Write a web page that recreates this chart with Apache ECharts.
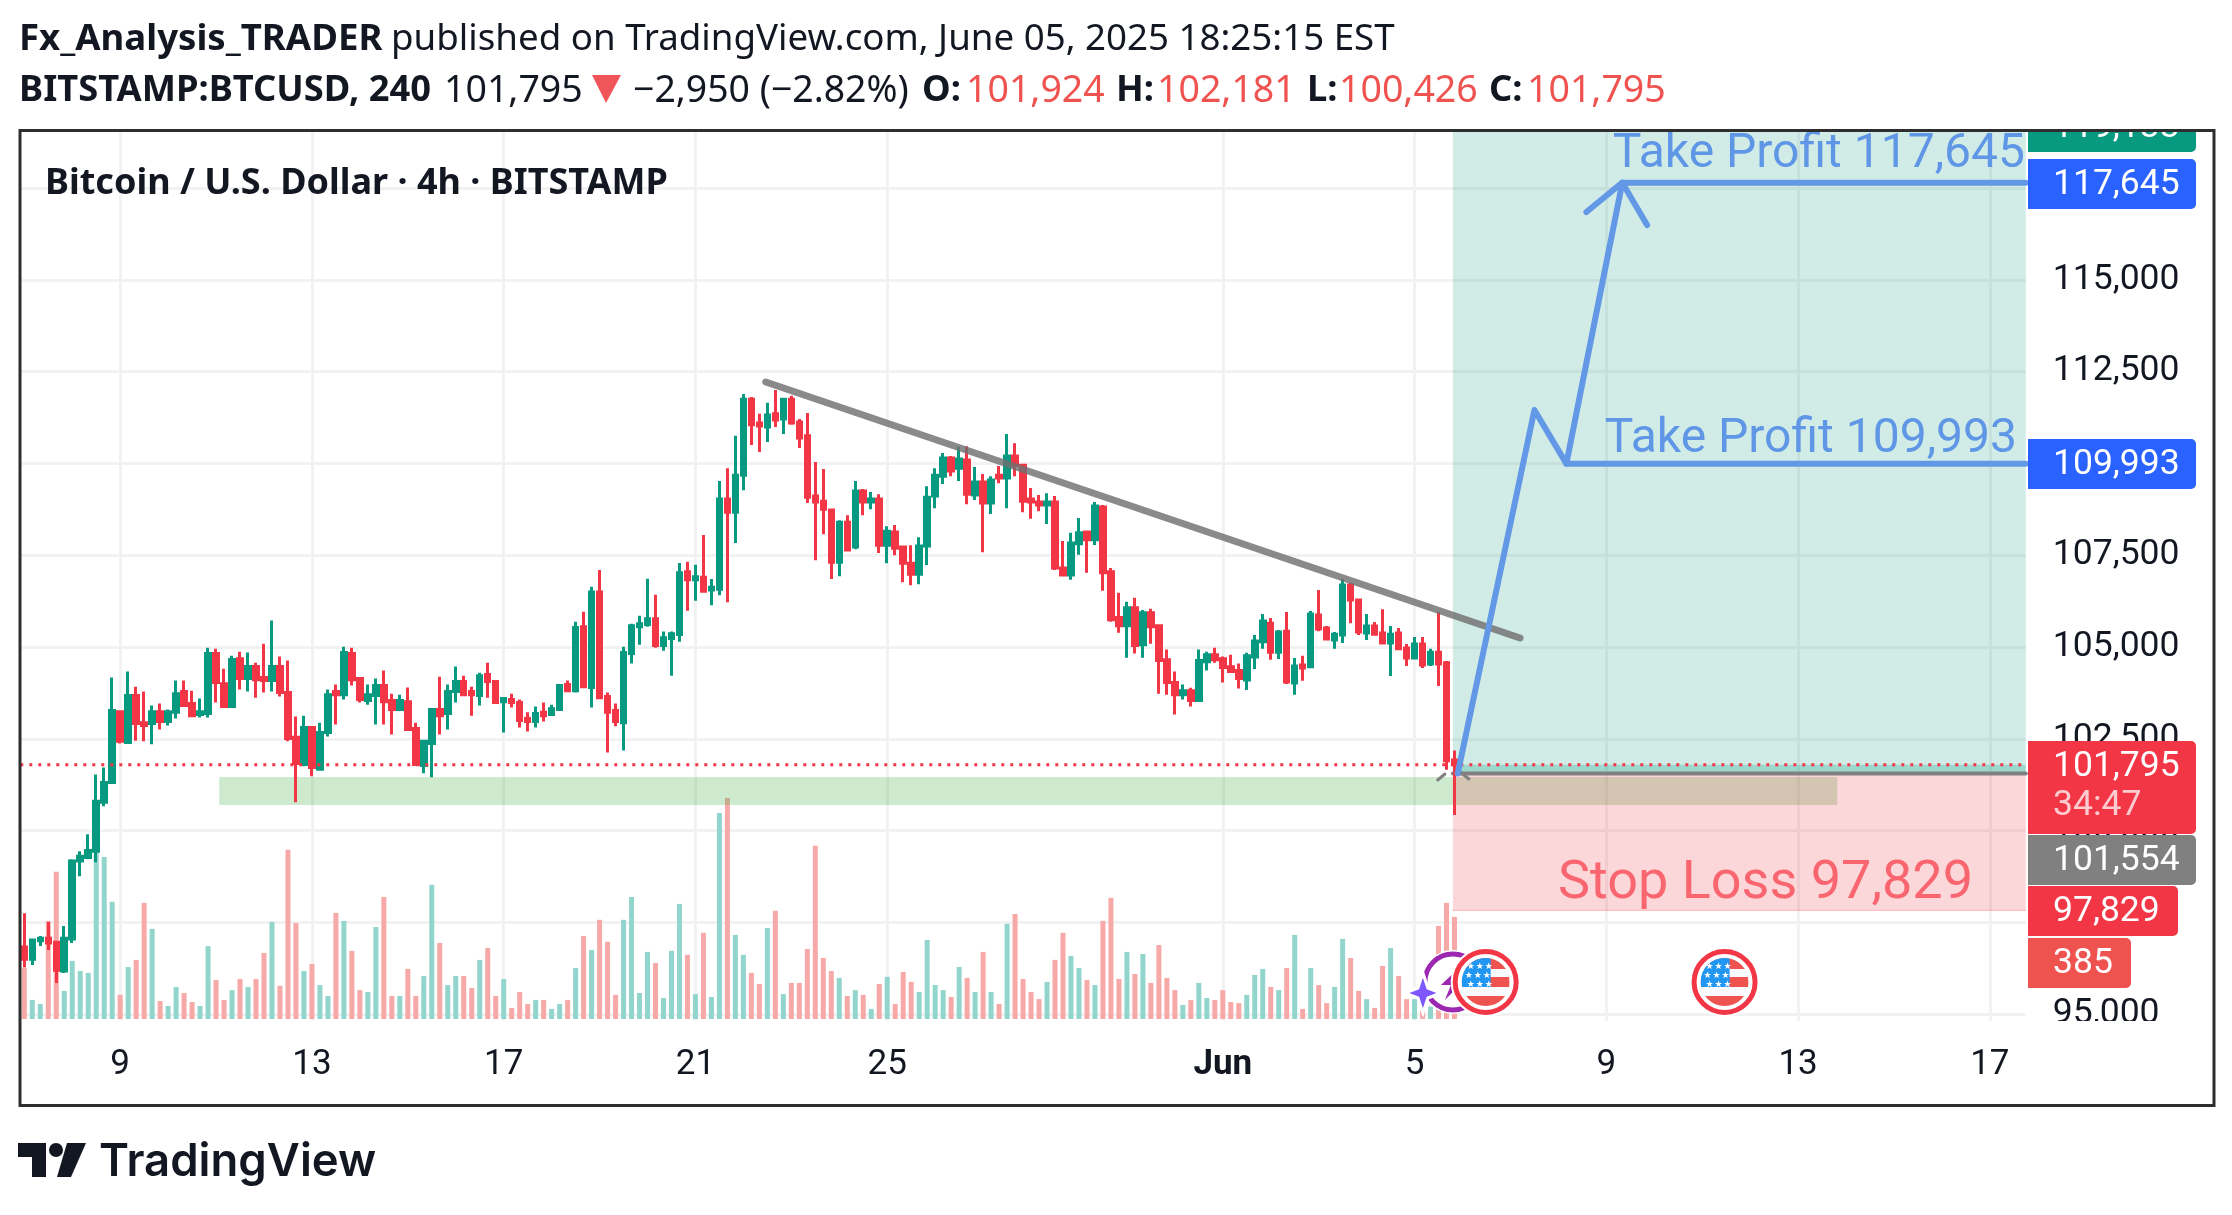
<!DOCTYPE html>
<html>
<head>
<meta charset="utf-8">
<title>BTCUSD</title>
<script src="https://cdn.jsdelivr.net/npm/echarts@6/dist/echarts.min.js"></script>
<style>
html,body{margin:0;padding:0;background:#fff;}
#container{width:2232px;height:1215px;}
</style>
</head>
<body>
<div id="container"></div>
<script>
// open, close, low, high - 4h bars
var candles = [
[96830,96500,96270,97750],[96500,97020,96340,97020],[97000,97070,96860,97130],[97070,96940,96750,97510],[96960,96200,95850,96990],
[96180,97070,96120,97400],[97050,99170,96940,99220],[99170,99300,98760,99440],[99270,99460,99270,99900],[99440,100800,99140,101530],
[100770,101310,100660,101720],[101310,103270,101310,104170],[103240,102430,102370,103240],[102400,103680,102370,104330],[103680,102920,102450,103920],
[102940,102860,102430,103790],[102920,103240,102350,103410],[103240,102970,102750,103460],[102970,103240,102860,103300],[103220,103730,103050,104090],
[103790,103410,103410,104090],[103460,103130,103130,103810],[103160,103240,103080,103600],[103190,104820,103080,104980],[104820,104030,103490,104950],
[104000,103380,103380,104410],[103380,104660,103380,104760],[104680,104140,103840,104870],[104140,104470,103790,104850],[104470,104110,103620,104570],
[104170,104090,103760,105090],[104090,104470,103790,105720],[104470,103760,103650,104740],[103760,102510,102430,104630],[102540,101830,100770,103110],
[101800,102810,101750,103130],[102810,101720,101480,102810],[101670,102670,101670,102940],[102670,103700,102560,103840],[103790,103700,102890,103980],
[103700,104850,103570,105010],[104820,104110,103950,104980],[104140,103570,103490,104140],[103540,103700,103430,103980],[103680,103950,102890,104140],
[103950,103510,102890,104360],[103540,103300,102620,103730],[103300,103540,103300,103700],[103510,102750,102750,103900],[102780,101800,101770,102940],
[101770,102430,101560,102450],[102370,103300,101450,103300],[103300,103130,102620,104190],[103190,103790,102750,103980],[103790,104060,103490,104470],
[104060,103700,103700,104220],[103790,103700,103130,103920],[103680,104220,103410,104300],[104250,104060,103620,104570],[104060,103490,103460,104060],
[103510,103600,102670,103600],[103570,103490,103350,103730],[103490,103000,102810,103570],[103050,102970,102700,103220],[102970,103190,102810,103380],
[103220,103130,102970,103490],[103160,103320,103160,103430],[103300,103950,103300,103980],[103980,103810,103810,104090],[103810,105530,103760,105690],
[105550,103920,103920,105960],[103900,106500,103350,106640],[106500,103620,103600,107100],[103650,103220,102130,103760],[103270,102970,102840,103460],
[102940,104850,102180,105010],[104820,105580,104550,105630],[105550,105630,105060,105850],[105610,105770,105550,106860],[105770,105040,104980,106420],
[105040,105250,104900,105420],[105230,105360,104220,105420],[105340,107020,105140,107290],[107050,106830,105990,107320],[106830,106910,106260,107240],
[106900,106520,106520,108050],[106550,106630,106140,106850],[106570,109030,106410,109520],[109030,108670,106220,109870],[108670,109680,107830,110750],
[109680,111750,109270,111890],[111750,111050,110500,111810],[111100,111020,110310,111350],[110990,111320,110580,111650],[111350,111180,110990,112000],
[111210,111750,110800,111750],[111750,111100,111050,111840],[111130,110690,110420,111210],[110750,109080,108920,111370],[109110,108950,107360,110040],
[108970,108750,108070,109850],[108730,107310,106850,108730],[107310,108400,106930,108450],[108400,107640,107610,108590],[107720,109250,107660,109520],
[109250,108950,108590,109300],[108950,109030,108750,109220],[109030,107770,107560,109160],[107770,108150,107280,108290],[108130,107690,107500,108320],
[107720,107280,106760,107720],[107280,106980,106680,107770],[106980,107750,106710,107990],[107750,109080,107230,109380],[109110,109680,108780,109870],
[109650,110150,109440,110280],[110150,109790,109650,110200],[109870,110120,109520,110450],[110090,109160,108890,110470],[109140,109490,109000,109900],
[109490,108920,107580,109710],[108920,109550,108620,109650],[109680,109600,109460,109930],[109600,110200,108780,110800],[110200,109950,109650,110550],
[109950,108970,108670,109950],[109030,108950,108490,109330],[108950,108870,108700,109140],[108870,108950,108350,109190],[108950,107150,107100,109110],
[107150,106960,106940,107890],[106960,107830,106830,108110],[107810,108110,107510,108510],[108130,107920,107020,108160],[107920,108840,107780,108950],
[108810,107020,106530,108870],[107050,105740,105690,107150],[105800,105580,105390,106480],[105580,106070,104710,106230],[106070,105040,104820,106340],
[105060,105930,104710,106010],[105930,105550,105090,106040],[105580,104630,103730,105580],[104650,104030,103700,104930],[104030,103700,103160,104330],
[103700,103810,103570,103980],[103810,103540,103380,103890],[103540,104630,103540,104930],[104600,104790,104360,104870],[104790,104650,104570,104980],
[104680,104440,104030,104740],[104460,104330,104300,104790],[104360,104140,103870,104550],[104100,104760,103830,104840],[104730,105160,104400,105330],
[105140,105710,104950,105900],[105650,104860,104650,105790],[104860,105410,104670,105460],[105430,104050,103990,105950],[104020,104480,103700,104700],
[104510,104430,104080,104760],[104460,105900,104460,105980],[105870,105490,105430,106550],[105520,105220,105190,105570],[105190,105350,104950,105410],
[105330,106690,105110,106850],[106690,106280,105650,106740],[106280,105410,105330,106300],[105380,105570,105190,105900],[105570,105350,105330,105680],
[105380,105110,105110,106030],[105110,105350,104210,105570],[105380,104950,104920,105520],[104970,104700,104480,105080],[104700,105080,104700,105270],
[105080,104510,104430,105270],[104540,104860,104480,104950],[104860,104540,103940,105950],[104570,101900,101660,104620],[101924,101795,100426,102181]
];
var volumes = [
192,72,57,370,555,106,219,181,174,630,611,442,91,196,223,438,340,68,49,121,
98,64,49,275,147,72,109,151,121,151,249,366,125,638,362,181,208,128,87,400,
370,257,109,102,347,460,87,87,189,87,162,506,287,128,162,162,117,223,268,87,
151,42,102,57,72,72,38,57,72,192,313,260,374,291,91,374,460,98,253,211,
79,257,434,242,94,325,83,777,833,317,242,174,132,343,408,94,136,136,264,653,
230,181,155,87,109,91,38,132,159,57,177,140,102,298,128,109,83,196,155,102,
253,102,57,359,396,151,102,75,140,223,325,238,192,147,128,370,457,151,253,170,
245,136,279,155,109,53,72,136,79,72,109,64,60,91,166,189,121,109,192,317,
38,192,128,60,121,302,230,106,75,42,200,268,162,75,75,34,47,351,438,385
];
var barCount = 251;
var priceTicks = [95000,97500,100000,102500,105000,107500,110000,112500,115000,117500];
var timeBars = [12,36,60,84,108,150,174,198,222,246];
var timeLabels = ['9','13','17','21','25','Jun','5','9','13','17'];

var lastPrice = 101795;
var entryPrice = 101554;
var targetPrice = 119133;
var stopPrice = 97829;
var tp1 = 109993;
var tp2 = 117645;
var positionStart = 178.8;
var zone = [24.4, 100700, 226.9, 101460];
var trendLine = [[92.8,112217],[187.2,105245]];
var pathLine = [[179.4,101554],[189,111454],[193,109993],[200,117645]];
var arrowWings = [[195.5,116846],[200,117645],[203.1,116490]];
var tp1Line = [[193,109993],[250.5,109993]];
var tp2Line = [[200,117645],[250.5,117645]];
var entryTickA = [[176.9,101378],[177.8,101541]];
var entryTickB = [[179.4,101650],[180.8,101405]];
var noteTexts = ['Take Profit 117,645','Take Profit 109,993','Stop Loss 97,829'];
var noteBars = [250.4,249.4,243.9];
var notePrices = [118400,110640,98520];
var flagBars = [182.9,212.8];
var eventPrice = 95877;

var UP = '#089981', DOWN = '#f23645', INK = '#131722';
var BLUE = '#6398e6', GREY = '#808080';

var categories = [];
for (var i = 0; i < barCount; i++) categories.push(String(i));

function fmt(v){ return String(v).replace(/\B(?=(\d{3})+$)/g, ','); }

var volumeData = volumes.map(function(v, i){
    var up = candles[i][1] >= candles[i][0];
    return { value: v, itemStyle: { color: up ? '#92d5cc' : '#f7a9a7' } };
});

function lineSeries(points, color, width, z){
    return {
        type: 'line', xAxisIndex: 1, yAxisIndex: 0, data: points, z: z,
        symbol: 'none', silent: true, animation: false, clip: true,
        lineStyle: { color: color, width: width, cap: 'round', join: 'round' }
    };
}

// zone goes first, the position boxes lie over it
var boxStyles = ['rgba(76,175,80,0.28)','rgba(8,153,129,0.19)','rgba(8,153,129,0.25)','rgba(242,54,69,0.2)'];
var boxes = [
    zone,
    [positionStart, entryPrice, barCount-0.5, targetPrice],
    [positionStart, entryPrice, barCount-0.5, lastPrice],
    [positionStart, stopPrice, barCount-0.5, entryPrice]
];

function renderBox(params, api){
    var a = api.coord([api.value(0), api.value(1)]);
    var b = api.coord([api.value(2), api.value(3)]);
    return {
        type: 'rect',
        shape: { x: Math.min(a[0],b[0]), y: Math.min(a[1],b[1]), width: Math.abs(b[0]-a[0]), height: Math.abs(b[1]-a[1]) },
        style: { fill: boxStyles[params.dataIndex] }
    };
}

function renderNote(params, api){
    var p = api.coord([api.value(0), api.value(1)]);
    var i = params.dataIndex;
    return {
        type: 'text', x: p[0], y: p[1],
        style: {
            text: noteTexts[i], align: 'right', verticalAlign: 'middle',
            font: '400 ' + (i < 2 ? 48 : 54) + 'px Roboto', fill: i < 2 ? '#5f96e6' : '#f9666f'
        }
    };
}

function renderFlag(params, api){
    var p = api.coord([api.value(0), eventPrice]);
    var stars = [];
    [-15,-6,3].forEach(function(sx, c){
        [-15,-6,3].forEach(function(sy, r){
            stars.push({ type:'text', x: sx + (r == 1 ? -2 : 0), y: sy, style:{ text:'★', font:'9px "DejaVu Sans"', fill:'#fff', align:'center', verticalAlign:'middle' } });
        });
    });
    return {
        type: 'group', x: p[0], y: p[1],
        children: [
            { type:'circle', shape:{cx:0,cy:0,r:35}, style:{fill:'#fff'} },
            { type:'circle', shape:{cx:0,cy:0,r:30.5}, style:{fill:'#fff',stroke:'#f23645',lineWidth:5} },
            { type:'group', clipPath:{ type:'circle', shape:{cx:0,cy:0,r:24} }, children: [
                { type:'rect', shape:{x:-24,y:-24,width:48,height:48}, style:{fill:'#f8f9fd'} },
                { type:'rect', shape:{x:-24,y:-24,width:48,height:11}, style:{fill:'#ef5350'} },
                { type:'rect', shape:{x:-24,y:-5,width:48,height:10}, style:{fill:'#ef5350'} },
                { type:'rect', shape:{x:-24,y:14,width:48,height:10}, style:{fill:'#ef5350'} },
                { type:'rect', shape:{x:-24,y:-24,width:29,height:29}, style:{fill:'#2196f3'} }
            ].concat(stars) }
        ]
    };
}

function renderSplit(params, api){
    var p = api.coord([positionStart, eventPrice]);
    return {
        type: 'group', x: p[0], y: p[1],
        children: [
            { type:'circle', shape:{cx:0,cy:0,r:32}, style:{fill:'#fff'} },
            { type:'circle', shape:{cx:0,cy:0,r:28}, style:{fill:'#fff',stroke:'#9c27b0',lineWidth:5} },
            { type:'polygon', shape:{points:[[6,-14],[-12,3],[-2,3],[-8,18],[12,-2],[2,-2]]}, style:{fill:'#9c27b0'} },
            { type:'polygon', x:-30, y:11, shape:{points:[[0,-20],[5,-5],[18,0],[5,5],[0,20],[-5,5],[-18,0],[-5,-5]]}, style:{fill:'#7e57ff',stroke:'#fff',lineWidth:3} }
        ]
    };
}

function txt(x, y, str, size, weight, color, family, z){
    return {
        type: 'text', x: x, y: y, z: z || 61, silent: true,
        style: { text: str, font: weight + ' ' + size + 'px ' + (family || '"Noto Sans"'), fill: color || INK, verticalAlign: 'middle' }
    };
}

function tag(top, right, color, label, z){
    var group = [{
        type: 'rect', z: z, silent: true,
        shape: { x: 2028, y: top, width: right - 2028, height: 50, r: [0,5,5,0] },
        style: { fill: color }
    }];
    if (label) group.push(txt(2053, top + 26, label, 35.5, 400, '#fff', 'Roboto', z + 1));
    return group;
}

var header = [
    { type:'rect', z:60, silent:true, shape:{x:0,y:0,width:2232,height:129}, style:{fill:'#fff'} },
    { type:'rect', z:60, silent:true, shape:{x:0,y:1108,width:2232,height:107}, style:{fill:'#fff'} },
    { type:'rect', z:10, silent:true, shape:{x:2030,y:1021,width:182,height:84}, style:{fill:'#fff'} },
    txt(19, 40, 'Fx_Analysis_TRADER', 36.6, 700),
    txt(391, 40, 'published on TradingView.com, June 05, 2025 18:25:15 EST', 36.7, 400),
    txt(19, 91, 'BITSTAMP:BTCUSD, 240', 36.3, 700),
    txt(444, 91, '101,795', 37.5, 400),
    { type:'polygon', z:61, silent:true, shape:{points:[[592,75],[621,75],[606,103]]}, style:{fill:'#f0555a'} },
    txt(633, 91, '\u22122,950 (\u22122.82%)', 37.4, 400),
    txt(922, 91, 'O:', 36.3, 700),
    txt(966, 91, '101,924', 37.5, 400, '#ef5350'),
    txt(1116, 91, 'H:', 36.3, 700),
    txt(1157, 91, '102,181', 37.5, 400, '#ef5350'),
    txt(1307, 91, 'L:', 36.3, 700),
    txt(1339, 91, '100,426', 37.5, 400, '#ef5350'),
    txt(1489, 91, 'C:', 36.3, 700),
    txt(1527, 91, '101,795', 37.5, 400, '#ef5350'),
    txt(45, 184, 'Bitcoin / U.S. Dollar \u00b7 4h \u00b7 BITSTAMP', 36, 700),
    // price scale tags
    tag(102, 2196, UP, fmt(targetPrice), 50),
    tag(159, 2196, '#2962ff', fmt(tp2), 52),
    tag(439, 2196, '#2962ff', fmt(tp1), 52),
    tag(741, 2196, DOWN, fmt(lastPrice), 50),
    [{ type:'rect', z:50, silent:true, shape:{x:2028,y:780,width:168,height:54,r:[0,5,5,0]}, style:{fill:DOWN} },
     txt(2053, 806, '34:47', 35.5, 400, 'rgba(255,255,255,0.75)', 'Roboto', 51)],
    tag(835, 2196, GREY, fmt(entryPrice), 50),
    tag(886, 2178, DOWN, fmt(stopPrice), 50),
    tag(938, 2131, '#ef5350', String(volumes[volumes.length-1]), 50),
    // frame
    { type:'rect', z:70, silent:true, shape:{x:20,y:130.5,width:2194,height:975}, style:{fill:'none',stroke:'#2e2e2e',lineWidth:3} },
    // logo
    { type:'polygon', z:61, silent:true, shape:{points:[[18,1143],[46,1143],[46,1177],[32,1177],[32,1157],[18,1157]]}, style:{fill:INK} },
    { type:'circle', z:61, silent:true, shape:{cx:56,cy:1150,r:7}, style:{fill:INK} },
    { type:'polygon', z:61, silent:true, shape:{points:[[67,1143],[86,1143],[71,1177],[57,1177]]}, style:{fill:INK} },
    txt(99, 1162, 'TradingView', 45.5, 600, INK, 'Inter')
];
var graphicElements = [];
header.forEach(function(el){ graphicElements = graphicElements.concat(el); });

var myChart = echarts.init(document.getElementById('container'));

var option = {
    animation: false,
    backgroundColor: '#fff',
    grid: { left: 20.3, right: 2232 - 2025.8, top: 131, bottom: 1215 - 1021, containLabel: false },
    xAxis: [
        { type: 'category', data: categories, show: false, boundaryGap: true },
        {
            type: 'value', min: -0.5, max: barCount - 0.5, position: 'bottom',
            axisLine: { show: false },
            axisTick: { show: false, customValues: timeBars },
            splitLine: { show: true, lineStyle: { color: '#f2f2f2', width: 3 } },
            axisLabel: {
                customValues: timeBars, margin: 27, fontFamily: 'Roboto', fontSize: 35, color: INK,
                formatter: function(v){
                    var s = timeLabels[timeBars.indexOf(v)];
                    return s == 'Jun' ? '{b|Jun}' : s;
                },
                rich: { b: { fontFamily: 'Roboto', fontSize: 35, fontWeight: 700, color: INK } }
            }
        }
    ],
    yAxis: [
        {
            type: 'value', position: 'right', min: 94815, max: 119052, scale: true,
            axisLine: { show: false },
            axisTick: { show: false, customValues: priceTicks },
            splitLine: { show: true, lineStyle: { color: '#f2f2f2', width: 3 } },
            axisLabel: {
                customValues: priceTicks, margin: 27, align: 'left', fontFamily: 'Roboto', fontSize: 35.5, color: INK,
                padding: [3,0,0,0],
                formatter: function(v){ return fmt(v); }
            }
        },
        { type: 'value', min: -7.5, max: 3348, show: false, splitLine: { show: false } }
    ],
    graphic: { elements: graphicElements },
    series: [
        { type: 'bar', name: 'Volume', xAxisIndex: 0, yAxisIndex: 1, data: volumeData, barWidth: 5, z: 1, silent: true },
        {
            type: 'custom', xAxisIndex: 1, yAxisIndex: 0, data: boxes, renderItem: renderBox,
            encode: { x: [0,2], y: [1,3] }, clip: true, z: 2, silent: true
        },
        lineSeries([[positionStart,entryPrice],[barCount-0.5,entryPrice]], GREY, 4, 3),
        lineSeries([[positionStart,stopPrice],[barCount-0.5,stopPrice]], 'rgba(242,54,69,0.35)', 1, 3),
        {
            type: 'candlestick', name: 'BTCUSD', xAxisIndex: 0, yAxisIndex: 0, data: candles, barWidth: 5, z: 4, silent: true,
            itemStyle: { color: UP, color0: DOWN, borderColor: UP, borderColor0: DOWN, borderWidth: 3 }
        },
        {
            type: 'line', xAxisIndex: 1, yAxisIndex: 0, data: [[-0.5,lastPrice],[barCount-0.5,lastPrice]],
            symbol: 'none', z: 5, silent: true, lineStyle: { color: DOWN, width: 3, type: [3,6] }
        },
        lineSeries(trendLine, 'rgba(112,112,112,0.82)', 7, 6),
        lineSeries(entryTickA, GREY, 3, 6),
        lineSeries(entryTickB, GREY, 3, 6),
        lineSeries(pathLine, BLUE, 6, 7),
        lineSeries(arrowWings, BLUE, 6, 7),
        lineSeries(tp1Line, BLUE, 6, 7),
        lineSeries(tp2Line, BLUE, 6, 7),
        {
            type: 'custom', xAxisIndex: 1, yAxisIndex: 0, data: [[positionStart]], renderItem: renderSplit,
            encode: { x: 0 }, clip: false, z: 8, silent: true
        },
        {
            type: 'custom', xAxisIndex: 1, yAxisIndex: 0, data: flagBars.map(function(b){ return [b]; }), renderItem: renderFlag,
            encode: { x: 0 }, clip: false, z: 9, silent: true
        },
        {
            type: 'custom', xAxisIndex: 1, yAxisIndex: 0, renderItem: renderNote, clip: false, z: 9, silent: true,
            data: noteBars.map(function(b, i){ return [b, notePrices[i]]; }), encode: { x: 0, y: 1 }
        }
    ]
};

if (option && typeof option === "object") {
    myChart.setOption(option, true);
}
</script>
</body>
</html>
